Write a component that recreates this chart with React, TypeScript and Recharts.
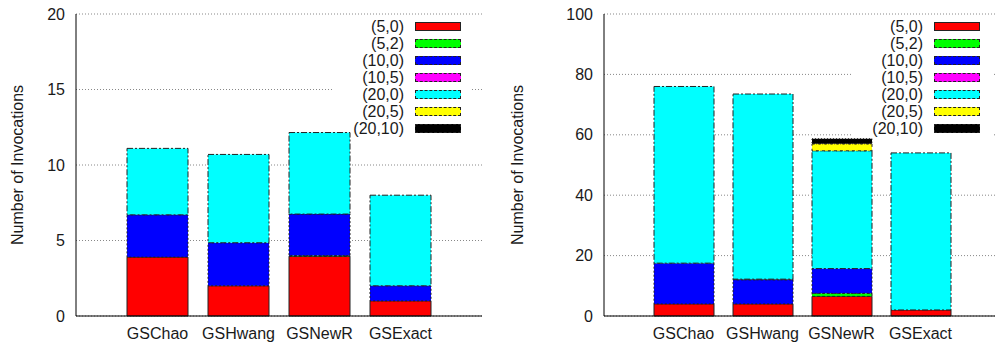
import { BarChart, Bar, XAxis, YAxis, CartesianGrid } from "recharts"

const categories = ["GSChao", "GSHwang", "GSNewR", "GSExact"]
const seriesNames = ["(5,0)", "(5,2)", "(10,0)", "(10,5)", "(20,0)", "(20,5)", "(20,10)"]
const seriesColors = ["#ff0000", "#00ff00", "#0000ff", "#ff00ff", "#00ffff", "#ffff00", "#000000"]
const seriesDash = ["", "3 2", "2 2", "4 2", "6 2 2 2", "3 3", "1 2"]

// left panel values
const left50 = [3.9, 2, 3.95, 1]
const left52 = [0, 0, 0.05, 0]
const left100 = [2.8, 2.85, 2.75, 1]
const left105 = [0, 0, 0, 0]
const left200 = [4.4, 5.85, 5.4, 6]
const left205 = [0, 0, 0, 0]
const left2010 = [0, 0, 0, 0]
const leftTicks = [0, 5, 10, 15, 20]

// right panel values
const right50 = [4, 4, 6.5, 2]
const right52 = [0, 0, 1, 0]
const right100 = [13.5, 8, 8.2, 0]
const right105 = [0, 0.2, 0, 0]
const right200 = [58.5, 61.3, 39, 52]
const right205 = [0, 0, 2.3, 0]
const right2010 = [0, 0, 1.7, 0]
const rightTicks = [0, 20, 40, 60, 80, 100]

const buildRows = (cols: number[][]) =>
  categories.map((name, i) => {
    const row: Record<string, any> = { name }
    seriesNames.forEach((s, j) => (row[s] = cols[j][i]))
    return row
  })

const leftData = buildRows([left50, left52, left100, left105, left200, left205, left2010])
const rightData = buildRows([right50, right52, right100, right105, right200, right205, right2010])

const FONT = "'Liberation Sans', Arial, Helvetica, sans-serif"
const TXT = "#1a1a1a"

const NoLabel = () => <g />

interface PanelProps {
  data: any[]
  ticks: number[]
  left: number
  width: number
  axisWidth: number
  pad: number
  barSize: number
  legendTextRight: number
  legendBox: [number, number, number]
}

function Panel({ data, ticks, left, width, axisWidth, pad, barSize, legendTextRight, legendBox }: PanelProps) {
  const yMax = ticks[ticks.length - 1]
  return (
    <div style={{ position: "absolute", left, top: 0, width, height: 347 }}>
      <BarChart
        width={width}
        height={347}
        data={data}
        margin={{ top: 14, right: 18, bottom: 0, left: 0 }}
        style={{ fontFamily: FONT }}
      >
        <CartesianGrid vertical={false} stroke="#888" strokeDasharray="1 2" />
        <XAxis
          dataKey="name"
          height={31}
          padding={{ left: pad, right: pad }}
          axisLine={{ stroke: "#000" }}
          tickLine={false}
          tickSize={6}
          tickMargin={6}
          tick={{ fill: TXT, fontSize: 16 }}
        />
        <XAxis
          xAxisId="top"
          dataKey="name"
          orientation="top"
          height={0}
          mirror
          padding={{ left: pad, right: pad }}
          axisLine={{ stroke: "#000" }}
          tickLine={{ stroke: "#000" }}
          tickSize={5}
          tick={NoLabel}
        />
        <YAxis
          width={axisWidth}
          domain={[0, yMax]}
          ticks={ticks}
          interval={0}
          axisLine={{ stroke: "#000" }}
          tickLine={false}
          tickSize={6}
          tickMargin={5}
          tick={{ fill: TXT, fontSize: 16 }}
          label={{
            content: ({ viewBox }: any) => {
              const cx = viewBox.x + 17
              const cy = viewBox.y + viewBox.height / 2
              return (
                <text
                  x={cx}
                  y={cy}
                  transform={`rotate(-90 ${cx} ${cy})`}
                  textAnchor="middle"
                  dominantBaseline="central"
                  fill={TXT}
                  fontSize={16}
                  fontFamily={FONT}
                >
                  Number of Invocations
                </text>
              )
            },
          }}
        />
        <YAxis
          yAxisId="right"
          orientation="right"
          width={0}
          mirror
          domain={[0, yMax]}
          ticks={ticks}
          axisLine={{ stroke: "#000" }}
          tickLine={false}
          tick={false}
        />
        {seriesNames.map((s, i) => (
          <Bar
            key={s}
            dataKey={s}
            stackId="a"
            barSize={barSize}
            fill={seriesColors[i]}
            stroke="#222"
            strokeWidth={1}
            strokeDasharray={seriesDash[i] || undefined}
            isAnimationActive={false}
          />
        ))}
      </BarChart>
      <div
        style={{
          position: "absolute",
          left: legendBox[0] - left,
          top: 15,
          width: legendBox[1] - legendBox[0],
          height: legendBox[2],
          background: "#fff",
        }}
      />
      {seriesNames.map((s, i) => (
        <div key={s}>
          <div
            style={{
              position: "absolute",
              right: width - (legendTextRight - left),
              top: 27 + 17 * i - 9,
              height: 18,
              lineHeight: "18px",
              fontSize: 16,
              fontFamily: FONT,
              color: TXT,
              whiteSpace: "nowrap",
            }}
          >
            {s}
          </div>
          <div
            style={{
              position: "absolute",
              left: legendTextRight - left + 11,
              top: 27 + 17 * i - 5,
              width: 46,
              height: 9,
              background: seriesColors[i],
              border: `1px ${i === 0 ? "solid" : "dashed"} #222`,
              boxSizing: "border-box",
            }}
          />
        </div>
      ))}
    </div>
  )
}

export default function App() {
  return (
    <div
      style={{
        position: "absolute",
        left: 0,
        top: 0,
        width: 995,
        height: 347,
        overflow: "hidden",
        background: "#fff",
      }}
    >
      <Panel
        data={leftData}
        ticks={leftTicks}
        left={0}
        width={500}
        axisWidth={76}
        pad={41}
        barSize={61}
        legendTextRight={404}
        legendBox={[334, 472, 100]}
      />
      <Panel
        data={rightData}
        ticks={rightTicks}
        left={500}
        width={518}
        axisWidth={104}
        pad={40}
        barSize={60}
        legendTextRight={923}
        legendBox={[853, 992, 123]}
      />
    </div>
  )
}
